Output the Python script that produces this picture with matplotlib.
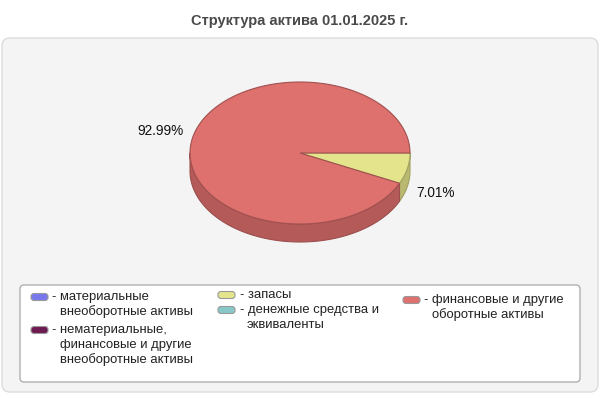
import numpy as np
import matplotlib
matplotlib.use("Agg")
import matplotlib.pyplot as plt
from matplotlib.patches import Polygon, FancyBboxPatch

plt.rcParams['font.family'] = ['Liberation Sans', 'DejaVu Sans']

title = "Структура актива 01.01.2025 г."
categories = [
    "материальные\nвнеоборотные активы",
    "нематериальные,\nфинансовые и другие\nвнеоборотные активы",
    "запасы",
    "денежные средства и\nэквиваленты",
    "финансовые и другие\nоборотные активы",
]
values = [0.0, 0.0, 7.01, 0.0, 92.99]
colors = ["#7878ee", "#6e1a52", "#e4e48c", "#88c8c8", "#de706e"]

def darken(c, f=0.8):
    r, g, b = matplotlib.colors.to_rgb(c)
    return (r * f, g * f, b * f)

fig = plt.figure(figsize=(6, 4), dpi=100)
ax = fig.add_axes([0, 0, 1, 1])
ax.set_xlim(0, 600)
ax.set_ylim(400, 0)
ax.axis("off")

# title
ax.text(300, 21, title, ha="center", va="center", fontsize=10.5,
        fontweight="bold", color="#4a4a4a")

# outer panel
ax.add_patch(FancyBboxPatch((2, 38), 596, 354, boxstyle="round,pad=0,rounding_size=8",
                            fc="#f4f4f4", ec="#dcdcdc", lw=1))

# 3D pie
cx, cy, rx, ry, depth = 300, 153, 110, 71, 18
total = sum(values)
slices = []
start = 0.0
for v, c in zip(values, colors):
    if v <= 0:
        continue
    ext = 360.0 * v / total
    slices.append((start, start + ext, c, v))
    start += ext

def ell(t):
    t = np.radians(t)
    return cx + rx * np.cos(t), cy + ry * np.sin(t)

# sides (front visible part)
for a, b, c, v in slices:
    for lo, hi in [(a, b), (a - 360, b - 360)]:
        s, e = max(lo, 0), min(hi, 180)
        if e <= s:
            continue
        t = np.linspace(s, e, 100)
        xs, ys = ell(t)
        pts = list(zip(xs, ys)) + list(zip(xs[::-1], ys[::-1] + depth))
        ax.add_patch(Polygon(pts, closed=True, fc=darken(c, 0.81),
                             ec=darken(c, 0.7), lw=0.8, joinstyle="round"))

# tops
for a, b, c, v in slices:
    t = np.linspace(a, b, 300)
    xs, ys = ell(t)
    pts = [(cx, cy)] + list(zip(xs, ys))
    ax.add_patch(Polygon(pts, closed=True, fc=c, ec=darken(c, 0.72), lw=0.8))

# labels
for a, b, c, v in slices:
    m = np.radians((a + b) / 2)
    lx = cx + rx * 1.08 * np.cos(m)
    ly = cy + ry * 1.4 * np.sin(m)
    if np.sin(m) > 0:
        ly += depth
    ax.text(lx, ly, f"{v:.2f}%", ha="left" if np.cos(m) > 0 else "right",
            va="center", fontsize=9.8, color="#111111")

# legend box
ax.add_patch(FancyBboxPatch((20, 285), 560, 97, boxstyle="round,pad=0,rounding_size=4",
                            fc="white", ec="#b0b0b0", lw=1))

legend_pos = [(31, 297), (31, 330), (218, 295), (218, 310), (403, 300)]
for (x, y), lab, c in zip(legend_pos, categories, colors):
    ax.add_patch(FancyBboxPatch((x, y - 3.5), 17, 7, boxstyle="round,pad=0,rounding_size=3",
                                fc=c, ec="#999999", lw=0.8))
    lines = lab.split("\n")
    ax.text(x + 21.5, y, "- " + lines[0], ha="left", va="center", fontsize=9.4, color="#222222")
    for i, ln in enumerate(lines[1:], start=1):
        ax.text(x + 28.5, y + 15 * i, ln, ha="left", va="center", fontsize=9.4, color="#222222")

fig.savefig("out.png", dpi=100)
